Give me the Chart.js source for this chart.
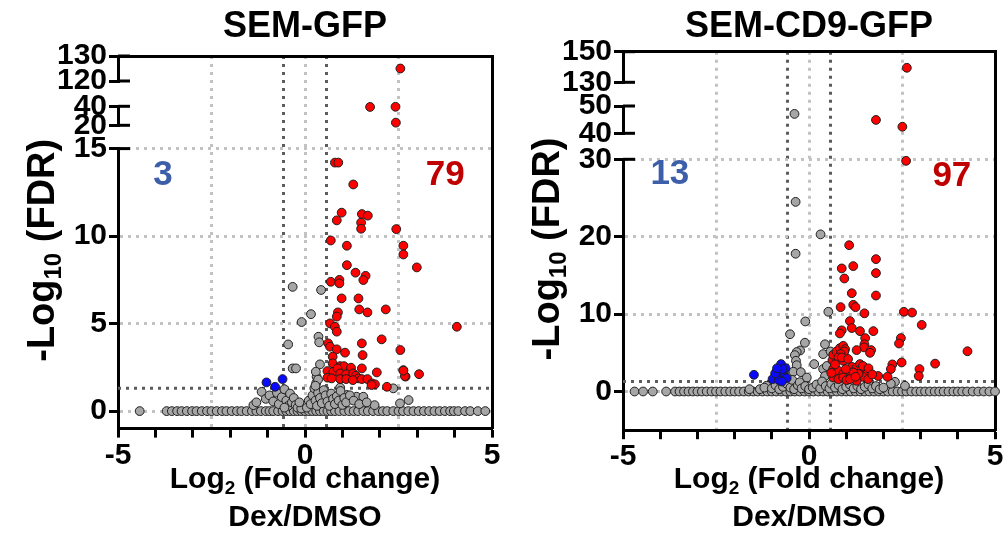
<!DOCTYPE html>
<html>
<head>
<meta charset="utf-8">
<script src="https://cdn.jsdelivr.net/npm/chart.js@4.4.1/dist/chart.umd.min.js"></script>
<style>
  html, body { margin: 0; padding: 0; background: #fff; }
  #wrap { position: relative; width: 1006px; height: 547px; }
  .panel { position: absolute; top: 0; width: 503px; height: 547px; }
</style>
</head>
<body>
<div id="wrap">
  <div class="panel" style="left:0"><canvas id="gfp"></canvas></div>
  <div class="panel" style="left:503px"><canvas id="cd9"></canvas></div>
</div>
<script>
// guide lines shared by both panels
const xTicks = [-5, -4, -3, -2, -1, 0, 1, 2, 3, 4, 5];
const xLabelled = [-5, 0, 5];
const foldGuides = [-2.5, 0, 2.5];
const foldCut = [-0.585, 0.585];   // log2(1.5)
const fdrCut = 1.3;                // -log10(0.05)

// SEM-GFP
const gfpRedX = [2.55, 1.74, 2.42, 2.43,
  0.80, 0.89, 1.29, 0.98, 0.85, 1.52, 1.68, 1.50, 1.50, 2.44,
  0.69, 1.12, 2.63, 2.63, 2.99, 1.12, 1.35, 1.62, 1.56, 0.69, 0.92, 0.92,
  0.98, 1.43, 0.88, 0.85, 1.45, 1.67, 2.16, 0.67, 0.80, 0.85,
  1.52, 2.05, 0.62, 0.67, 0.85, 1.07, 1.54, 2.55, 0.74, 0.74,
  0.94, 1.04, 1.23, 1.52, 1.92, 2.63, 2.69, 3.05, 0.60, 0.76,
  0.87, 0.94, 1.10, 1.29, 1.36, 1.43, 1.52, 1.67, 1.79, 1.87,
  2.19, 0.60, 0.71, 0.94, 1.10, 1.28, 4.06, 1.78, 2.67, 2.63];
const gfpRedY = [125, 39.3, 39.5, 22.8,
  14.2, 14.2, 12.95, 11.34, 10.9, 11.26, 11.17, 10.77, 10.42, 10.4,
  9.75, 9.45, 9.45, 8.95, 8.21, 8.34, 7.91, 7.73, 7.49, 7.39, 7.5, 7.3,
  6.44, 6.44, 5.64, 5.4, 5.81, 5.64, 5.81, 5.01, 4.82, 4.54,
  3.87, 4.1, 3.87, 3.68, 3.53, 3.34, 3.2, 3.49, 3.11, 2.73,
  2.57, 2.57, 2.48, 2.44, 2.21, 2.34, 1.97, 2.11, 2.29, 2.25,
  2.44, 2.15, 2.10, 2.15, 2.02, 1.87, 1.83, 1.83, 1.58, 1.53,
  1.39, 1.91, 1.87, 1.83, 1.83, 1.77, 4.82, 1.49, 2.0, 2.31];
const gfpBlueX = [-1.03, -0.80, -0.60];
const gfpBlueY = [1.64, 1.39, 1.83];
const gfpGreyX = [-0.33, 0.43, 0.16, -0.09, -0.45, 0.36, 0.38, -0.33, -0.24, 0.40, 0.31, 0.29, 1.38, 1.56, 0.94, 1.12, 2.77, 2.36, 2.54, -1.38, 1.86, -1.16,
  -1.30, -1.05, -0.95, -0.85, -0.75, -0.70, -0.62, -0.55, -0.50, -0.45,
  -0.40, -0.35, -0.30, -0.25, -0.20, -0.10, 0.05, 0.10, 0.15, 0.20,
  0.25, 0.28, 0.32, 0.35, 0.40, 0.45, 0.50, 0.55, 0.60, 0.65,
  0.70, 0.75, 0.80, 0.85, 0.90, 0.95, 1.00, 1.05, 1.10, 1.20,
  1.30, 1.45, 1.65, 0.30, 0.35, 0.28, -0.55, -0.15];
const gfpGreyY = [7.10, 6.92, 5.54, 5.09, 3.81, 4.25, 3.93, 2.44, 2.44, 2.67, 1.96, 2.25, 0.82, 0.82, 1.34, 0.92, 0.63, 1.30, 0.44, 0.34, 0.34, 1.10,
  0.50, 0.70, 0.90, 0.55, 1.05, 0.40, 0.80, 1.25, 0.60, 0.30,
  1.00, 0.50, 0.75, 0.35, 0.20, 0.15, 0.20, 0.60, 0.40, 0.90,
  1.30, 0.60, 0.30, 1.05, 0.75, 0.45, 1.20, 0.90, 0.55, 0.30,
  1.00, 0.70, 0.40, 0.85, 0.60, 1.15, 0.35, 0.75, 0.50, 0.90,
  0.60, 0.40, 0.50, 1.60, 1.80, 1.45, 0.20, 0.50];
// genes sitting on FDR = 1 (-log10 = 0)
const gfpZeroX = [-4.42, -3.70, -3.56, -3.42, -3.30, -3.16, -3.02, -2.90, -2.76, -2.62, -2.50, -2.36, -2.22, -2.10,
  -1.96, -1.82, -1.70, -1.56, -1.42, -1.30, -1.18, -1.05, -0.95, -0.85, -0.72, -0.60, -0.50, -0.40, -0.30, -0.20,
  -0.10, 0.00, 0.10, 0.20, 0.30, 0.40, 0.50, 0.60, 0.70, 0.80, 0.92, 1.05, 1.18, 1.30, 1.42, 1.56, 1.68, 1.82,
  1.96, 2.08, 2.20, 2.36, 2.50, 2.62, 2.76, 2.90, 3.04, 3.18, 3.32, 3.46, 3.60, 3.74, 3.88, 3.98, 4.10, 4.28,
  4.42, 4.62, 4.82];

// SEM-CD9-GFP
const cd9RedX = [2.63, 1.80, 2.51,
  2.61, 1.08, 0.88, 1.19, 0.95, 1.80, 1.80, 1.15, 1.80, 0.85,
  1.19, 1.25, 1.49, 2.55, 2.77, 3.03, 1.10, 1.15, 0.88, 0.83,
  1.37, 1.73, 1.51, 2.47, 2.42, 1.49, 1.48, 1.28, 1.67, 1.64,
  4.26, 2.49, 2.24, 2.20, 3.39, 2.97, 2.95, 2.11, 1.86, 0.63,
  0.65, 0.74, 0.83, 0.92, 0.97, 0.95, 0.85, 0.79, 0.92, 0.65,
  0.79, 0.92, 1.06, 1.15, 0.65, 0.79, 0.92, 1.01, 1.28, 1.37,
  1.42, 1.51, 1.55, 1.44, 1.33, 1.59, 1.28, 1.19, 0.99, 0.70,
  0.60, 1.10, 1.25, 1.45, 1.60, 1.70, 0.88, 1.05];
const cd9RedY = [139.5, 44.9, 42.4,
  29.8, 18.9, 15.9, 16.2, 14.6, 17.1, 15.3, 12.7, 12.4, 10.9,
  11.2, 10.9, 10.1, 10.3, 10.2, 8.6, 9.1, 8.2, 7.9, 7.5,
  7.8, 7.8, 6.9, 6.9, 6.2, 6.1, 5.7, 5.35, 5.35, 5.0,
  5.2, 3.75, 3.5, 2.9, 3.6, 2.9, 2.0, 1.9, 2.0, 4.05,
  4.74, 5.17, 5.6, 5.9, 5.47, 5.17, 4.83, 4.4, 3.97, 2.9,
  2.67, 2.33, 2.67, 3.19, 1.81, 1.6, 1.81, 1.47, 3.1, 3.54,
  2.9, 2.67, 2.25, 1.9, 2.25, 1.6, 1.38, 2.46, 2.9, 3.5,
  2.4, 1.6, 1.9, 3.3, 3.0, 2.2, 4.4, 4.2];
const cd9BlueX = [-1.48, -0.75, -0.63, -0.87, -0.78, -0.67, -0.60, -0.98, -0.81, -0.91, -0.71, -0.86, -0.73];
const cd9BlueY = [2.16, 3.54, 3.02, 2.55, 2.33, 1.9, 1.73, 1.6, 1.47, 2.33, 2.9, 3.0, 1.29];
const cd9GreyX = [-0.39, -0.36, 0.31, -0.36, -0.10, 0.52, -0.51, -0.11, -0.24, -0.33,
  -0.38, -0.35, -0.33, -0.42, 0.43, 0.38, 0.58, 0.14, 0.38, 0.48,
  0.43, -0.22, -0.06, -1.14, -1.32, 2.31, 2.58, 2.20,
  -1.60, -1.20, -1.00, -0.90, -0.80, -0.70, -0.60, -0.50, -0.45, -0.40,
  -0.30, -0.25, -0.20, -0.10, 0.00, 0.10, 0.20, 0.30, 0.35, 0.45,
  0.55, 0.60, 0.70, 0.80, 0.90, 1.00, 1.10, 1.20, 1.30, 1.40,
  1.50, 1.60, 1.70, 1.80, 1.90, 2.00];
const cd9GreyY = [47.1, 24.5, 20.3, 17.8, 9.05, 10.3, 7.4, 6.3, 5.3, 5.1,
  4.7, 3.97, 3.4, 2.55, 6.1, 4.83, 5.17, 3.54, 2.9, 3.3,
  2.0, 2.5, 1.8, 0.74, 0.3, 1.25, 0.74, 1.0,
  0.3, 0.5, 0.4, 0.8, 0.3, 0.6, 1.0, 0.5, 1.5, 0.3,
  0.8, 1.2, 0.4, 0.7, 0.3, 0.5, 0.9, 0.4, 1.3, 0.7,
  0.4, 1.0, 0.5, 0.8, 0.3, 0.6, 0.9, 0.4, 0.7, 0.3,
  0.6, 0.9, 0.4, 0.7, 0.3, 0.5];
const cd9ZeroX = [-4.69, -4.46, -4.20, -3.84, -3.60, -3.48, -3.36, -3.24, -3.12, -3.00, -2.88, -2.75, -2.62, -2.50,
  -2.38, -2.25, -2.12, -2.00, -1.88, -1.75, -1.62, -1.50, -1.38, -1.25, -1.12, -1.00, -0.88, -0.75, -0.62, -0.50,
  -0.38, -0.25, -0.12, 0.00, 0.12, 0.25, 0.38, 0.50, 0.62, 0.75, 0.88, 1.00, 1.12, 1.25, 1.38, 1.50, 1.62, 1.75,
  1.88, 2.00, 2.12, 2.25, 2.38, 2.50, 2.62, 2.75, 2.88, 3.00, 3.12, 3.25, 3.38, 3.50, 3.62, 3.75, 3.88, 4.00,
  4.12, 4.25, 4.40, 4.55, 4.70, 4.85, 5.00];

const FONT = '"Liberation Sans", Arial, sans-serif';
Chart.defaults.font.family = FONT;
Chart.defaults.font.weight = 'bold';
Chart.defaults.color = '#000';

const GRID_LIGHT = '#c2c2c2';
const GRID_DARK = '#5c5c5c';
const DOTS = [3, 5];
const TITLE_SIZE = 36;

// panel layout: y-axis broken into three stacked segments (top to bottom)
const panels = [
  {
    canvas: 'gfp', title: 'SEM-GFP', plotTop: 56, axisWidth: 118, yTitleX: 40,
    segs: [
      { id: 'y1', min: 120, max: 130, from: 120, ticks: [120, 130], span: 25 },
      { id: 'y2', min: 20, max: 40, from: 20, ticks: [20, 40], span: 19 },
      { id: 'y3', min: -1, max: 15, from: -Infinity, ticks: [0, 5, 10, 15], span: 280 }
    ],
    gaps: [25.3, 23.3],
    red: [gfpRedX, gfpRedY], blue: [gfpBlueX, gfpBlueY], grey: [gfpGreyX, gfpGreyY], zero: gfpZeroX,
    counts: [{ text: '3', x: -3.8, y: 13.5, color: '#3d5ea8' }, { text: '79', x: 3.75, y: 13.5, color: '#c00000' }]
  },
  {
    canvas: 'cd9', title: 'SEM-CD9-GFP', plotTop: 51.7, axisWidth: 120, yTitleX: 42,
    segs: [
      { id: 'y1', min: 130, max: 150, from: 130, ticks: [130, 150], span: 30.6 },
      { id: 'y2', min: 40, max: 50, from: 40, ticks: [40, 50], span: 27.3 },
      { id: 'y3', min: -5, max: 30, from: -Infinity, ticks: [0, 10, 20, 30], span: 270.9 }
    ],
    gaps: [23.7, 26],
    red: [cd9RedX, cd9RedY], blue: [cd9BlueX, cd9BlueY], grey: [cd9GreyX, cd9GreyY], zero: cd9ZeroX,
    counts: [{ text: '13', x: -3.74, y: 28, color: '#3d5ea8' }, { text: '97', x: 3.84, y: 27.8, color: '#c00000' }]
  }
];

function drawSubText(ctx, parts, cx, cy, size, angle) {
  const fonts = [size, Math.round(size * 0.62), size].map(s => `bold ${s}px ${FONT}`);
  const widths = parts.map((t, i) => { ctx.font = fonts[i]; return ctx.measureText(t).width; });
  const total = widths.reduce((a, b) => a + b, 0);
  ctx.save();
  ctx.translate(cx, cy);
  ctx.rotate(angle);
  ctx.textAlign = 'left';
  ctx.textBaseline = 'alphabetic';
  ctx.fillStyle = '#000';
  let x = -total / 2;
  const base = size * 0.36;
  parts.forEach((t, i) => {
    ctx.font = fonts[i];
    ctx.fillText(t, x, i === 1 ? base + size * 0.2 : base);
    x += widths[i];
  });
  ctx.restore();
}

// axis titles, the gene counts and the caps at the axis breaks
const panelText = {
  id: 'panelText',
  afterDraw(chart, args, o) {
    const { ctx, chartArea: a, scales } = chart;
    ctx.save();
    ctx.strokeStyle = '#000';
    ctx.lineWidth = 3;
    o.caps.forEach(([id, v]) => {
      const y = scales[id].getPixelForValue(v);
      ctx.beginPath();
      ctx.moveTo(a.left, y);
      ctx.lineTo(a.left + 12, y);
      ctx.stroke();
    });
    ctx.font = `bold 35px ${FONT}`;
    ctx.textAlign = 'center';
    ctx.textBaseline = 'middle';
    o.counts.forEach(c => {
      ctx.fillStyle = c.color;
      ctx.fillText(c.text, scales.x.getPixelForValue(c.x), scales.y3.getPixelForValue(c.y));
    });
    const midX = (a.left + a.right) / 2;
    drawSubText(ctx, ['-Log', '10', ' (FDR)'], o.yTitleX, (a.top + a.bottom) / 2 + 8, 38, -Math.PI / 2);
    drawSubText(ctx, ['Log', '2', ' (Fold change)'], midX, 477, 30, 0);
    ctx.font = `bold 30px ${FONT}`;
    ctx.fillStyle = '#000';
    ctx.fillText('Dex/DMSO', midX, 518);
    ctx.restore();
  }
};

function splitBySegment(xs, ys, segs) {
  const out = {};
  segs.forEach(s => { out[s.id] = []; });
  xs.forEach((x, i) => {
    const s = segs.find(seg => ys[i] >= seg.from);
    out[s.id].push({ x, y: ys[i] });
  });
  return out;
}

function makePanel(p) {
  const tickFont = { size: 30, weight: 'bold' };
  const fixedTicks = vals => scale => { scale.ticks = vals.map(v => ({ value: v })); };
  const plotHeight = p.segs.reduce((s, g) => s + g.span, 0) + p.gaps.reduce((s, g) => s + g, 0);

  const scales = {
    x: {
      type: 'linear', position: 'bottom', min: -5, max: 5,
      afterBuildTicks: fixedTicks(xTicks),
      afterFit: s => { s.height = 547 - p.plotTop - plotHeight; },
      ticks: { autoSkip: false, maxRotation: 0, padding: 0, font: tickFont, color: '#000',
        callback: v => xLabelled.includes(v) ? String(v) : '' },
      grid: { drawOnChartArea: false, tickLength: 9, tickWidth: 3, tickColor: '#000' },
      border: { color: '#000', width: 3 }
    },
    xg: {
      type: 'linear', position: 'bottom', min: -5, max: 5,
      afterBuildTicks: fixedTicks(foldGuides),
      ticks: { display: false },
      grid: { color: GRID_LIGHT, lineWidth: 3, drawTicks: false },
      border: { display: false, dash: DOTS }
    },
    xd: {
      type: 'linear', position: 'bottom', min: -5, max: 5,
      afterBuildTicks: fixedTicks(foldCut),
      ticks: { display: false },
      grid: { color: GRID_DARK, lineWidth: 3, drawTicks: false },
      border: { display: false, dash: DOTS }
    },
    xt: {
      type: 'linear', position: 'top', min: -5, max: 5,
      ticks: { display: false }, grid: { display: false, drawTicks: false },
      border: { color: '#000', width: 3 }
    },
    yr: {
      type: 'linear', position: 'right',
      ticks: { display: false }, grid: { display: false, drawTicks: false },
      border: { color: '#000', width: 3 }
    }
  };

  const order = [p.segs[0], { gap: p.gaps[0] }, p.segs[1], { gap: p.gaps[1] }, p.segs[2]];
  order.forEach((s, k) => {
    const weight = order.length - k;
    if (s.gap !== undefined) {
      scales['gap' + k] = { type: 'linear', position: 'left', stack: 'v', stackWeight: s.gap, weight, display: false };
      return;
    }
    scales[s.id] = {
      type: 'linear', position: 'left', stack: 'v', stackWeight: s.span, weight,
      min: s.min, max: s.max,
      afterBuildTicks: fixedTicks(s.ticks),
      afterFit: sc => { sc.width = p.axisWidth; },
      ticks: { autoSkip: false, padding: 2, font: tickFont, color: '#000', callback: v => String(v) },
      grid: { drawOnChartArea: s.id === 'y3', color: GRID_LIGHT, lineWidth: 3,
        tickLength: 9, tickWidth: 3, tickColor: '#000', tickBorderDash: [] },
      border: { color: '#000', width: 3, dash: DOTS }
    };
  });

  const datasets = [];
  const addGroup = (xs, ys, fill, order) => {
    const parts = splitBySegment(xs, ys, p.segs);
    p.segs.forEach(s => {
      if (!parts[s.id].length) return;
      datasets.push({
        data: parts[s.id], xAxisID: 'x', yAxisID: s.id, order, clip: false,
        pointRadius: 4.4, pointBorderWidth: 1, pointBackgroundColor: fill, pointBorderColor: '#1e1e1e'
      });
    });
  };
  addGroup(p.red[0], p.red[1], '#ff0000', 1);
  addGroup(p.blue[0], p.blue[1], '#0a0aff', 1);
  addGroup(p.grey[0], p.grey[1], '#a6a6a6', 3);
  addGroup(p.zero, p.zero.map(() => 0), '#a6a6a6', 4);
  datasets.push({
    data: [{ x: -5, y: fdrCut }, { x: 5, y: fdrCut }], xAxisID: 'x', yAxisID: 'y3', order: 5,
    showLine: true, pointRadius: 0, borderColor: GRID_DARK, borderWidth: 3, borderDash: DOTS
  });

  const caps = [];
  p.segs.slice(0, 2).forEach(s => s.ticks.forEach(v => caps.push([s.id, v])));
  caps.push(['y3', p.segs[2].max]);

  return new Chart(document.getElementById(p.canvas), {
    type: 'scatter',
    data: { datasets },
    options: {
      responsive: true,
      maintainAspectRatio: false,
      animation: false,
      events: [],
      layout: { padding: { top: 0, left: 0, right: 11, bottom: 0 } },
      scales,
      plugins: {
        legend: { display: false },
        tooltip: { enabled: false },
        title: {
          display: true, text: p.title, fullSize: false, color: '#000',
          font: { size: TITLE_SIZE, weight: 'bold' },
          padding: { top: 5, bottom: p.plotTop - 5 - TITLE_SIZE * 1.2 }
        },
        panelText: { caps, counts: p.counts, yTitleX: p.yTitleX }
      }
    },
    plugins: [panelText]
  });
}

panels.forEach(makePanel);
</script>
</body>
</html>
